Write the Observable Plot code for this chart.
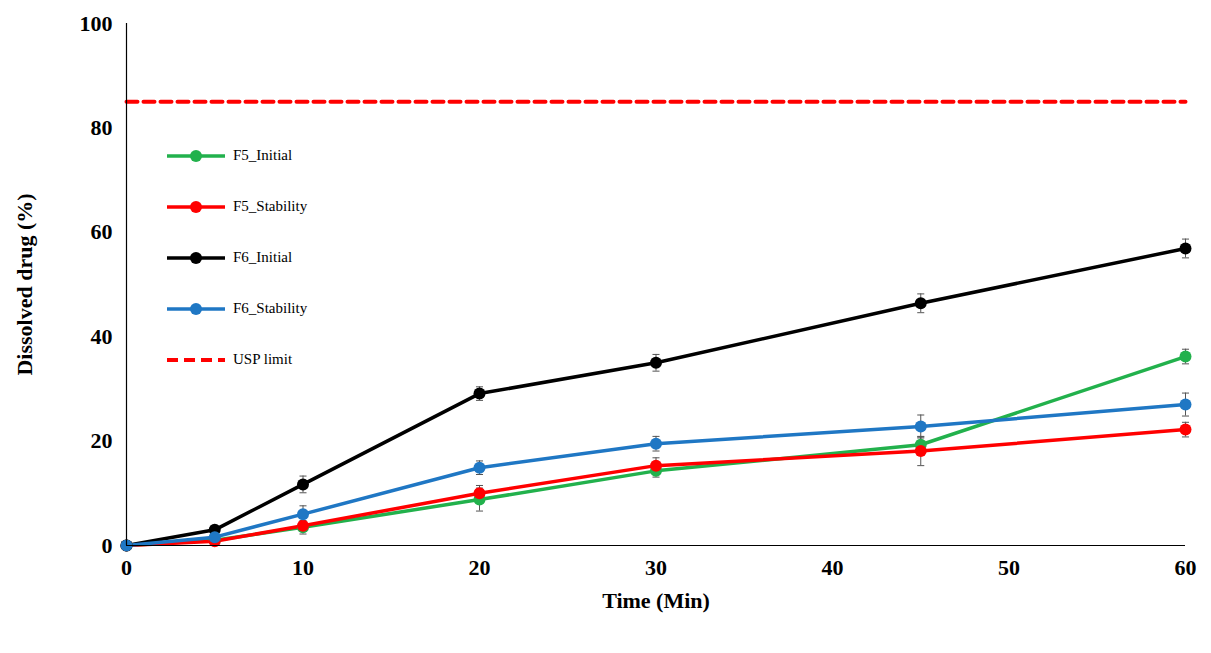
<!DOCTYPE html>
<html><head>
<meta charset="utf-8">
<script src="https://cdn.jsdelivr.net/npm/d3@7"></script>
<script src="https://cdn.jsdelivr.net/npm/@observablehq/plot@0.6"></script>
<style>
body{margin:0;background:#fff;font-family:"Liberation Serif",serif}
#wrap{position:relative;width:1211px;height:653px}
#legend{position:absolute;left:165px;top:130px;font-family:"Liberation Serif",serif;font-size:15px}
.item{display:flex;align-items:center;height:51px}
.item span{margin-left:6px}
</style></head><body>
<div id="wrap"><div id="chart"></div><div id="legend"></div></div>
<script>
const times=[0,5,10,20,30,45,60];
const seriesNames=["F5_Initial","F5_Stability","F6_Initial","F6_Stability"];
const colors=["#22b14c","#ff0000","#000000","#1f77c4"];
const F5_Initial=[0,1.0,3.5,8.8,14.3,19.3,36.2];
const F5_Initial_err=[0,0.3,1.3,2.2,1.2,1.5,1.4];
const F5_Stability=[0,0.8,3.8,10.0,15.3,18.1,22.2];
const F5_Stability_err=[0,0.3,0.8,1.5,1.5,2.8,1.4];
const F6_Initial=[0,3.0,11.7,29.1,35.0,46.4,56.9];
const F6_Initial_err=[0,0.5,1.6,1.3,1.6,1.8,1.8];
const F6_Stability=[0,1.6,6.0,14.9,19.5,22.8,27.0];
const F6_Stability_err=[0,0.5,1.6,1.3,1.4,2.2,2.2];
const uspLimit=85;
const xTicks=[0,10,20,30,40,50,60];
const yTicks=[0,20,40,60,80,100];

const vals=[F5_Initial,F5_Stability,F6_Initial,F6_Stability];
const errs=[F5_Initial_err,F5_Stability_err,F6_Initial_err,F6_Stability_err];
const data=[];
seriesNames.forEach((s,i)=>times.forEach((t,j)=>data.push({s,t,v:vals[i][j],e:errs[i][j]})));
const usp=[{t:0,v:uspLimit},{t:60,v:uspLimit}];
const caps=data.flatMap(d=>[{t:d.t,v:d.v-d.e},{t:d.t,v:d.v+d.e}]).filter(d=>true);

const chart=Plot.plot({
  width:1211,height:653,marginLeft:126,marginRight:26,marginTop:23,marginBottom:108,
  style:{fontFamily:"Liberation Serif, serif",fontSize:"22px",fontWeight:"bold",background:"white"},
  x:{type:"linear",domain:[0,60],ticks:xTicks,tickSize:0,tickPadding:14,label:"Time (Min)",labelAnchor:"center",labelOffset:62,labelArrow:false},
  y:{type:"linear",domain:[0,100],ticks:yTicks,tickSize:0,tickPadding:14,label:"Dissolved drug (%)",labelAnchor:"center",labelOffset:110,labelArrow:false},
  color:{domain:seriesNames,range:colors},
  marks:[
    Plot.line(usp,{x:"t",y:"v",stroke:"#ff0000",strokeWidth:4,strokeDasharray:"11,6"}),
    Plot.ruleX(data,{x:"t",y1:d=>d.v-d.e,y2:d=>d.v+d.e,stroke:"#555",strokeWidth:1}),
    Plot.link(caps,{x1:d=>d.t-0.2,x2:d=>d.t+0.2,y1:"v",y2:"v",stroke:"#555",strokeWidth:1}),
    Plot.line(data,{x:"t",y:"v",z:"s",stroke:"s",strokeWidth:3.5}),
    Plot.dot(data,{x:"t",y:"v",fill:"s",r:6}),
    Plot.ruleY([0],{stroke:"#000",strokeWidth:1.2}),
    Plot.ruleX([0],{stroke:"#000",strokeWidth:1.2})
  ]
});
document.getElementById("chart").append(chart);
const leg=document.getElementById("legend");
const items=[...seriesNames.map((n,i)=>({n,c:colors[i],dash:false})),{n:"USP limit",c:"#ff0000",dash:true}];
items.forEach(it=>{
  const div=document.createElement("div");div.className="item";
  div.innerHTML=`<svg width="62" height="14">${it.dash?`<line x1="2" y1="7" x2="60" y2="7" stroke="${it.c}" stroke-width="4" stroke-dasharray="11,6"/>`:`<line x1="2" y1="7" x2="60" y2="7" stroke="${it.c}" stroke-width="3.5"/><circle cx="31" cy="7" r="6" fill="${it.c}"/>`}</svg><span>${it.n}</span>`;
  leg.append(div);
});
</script>
</body></html>
